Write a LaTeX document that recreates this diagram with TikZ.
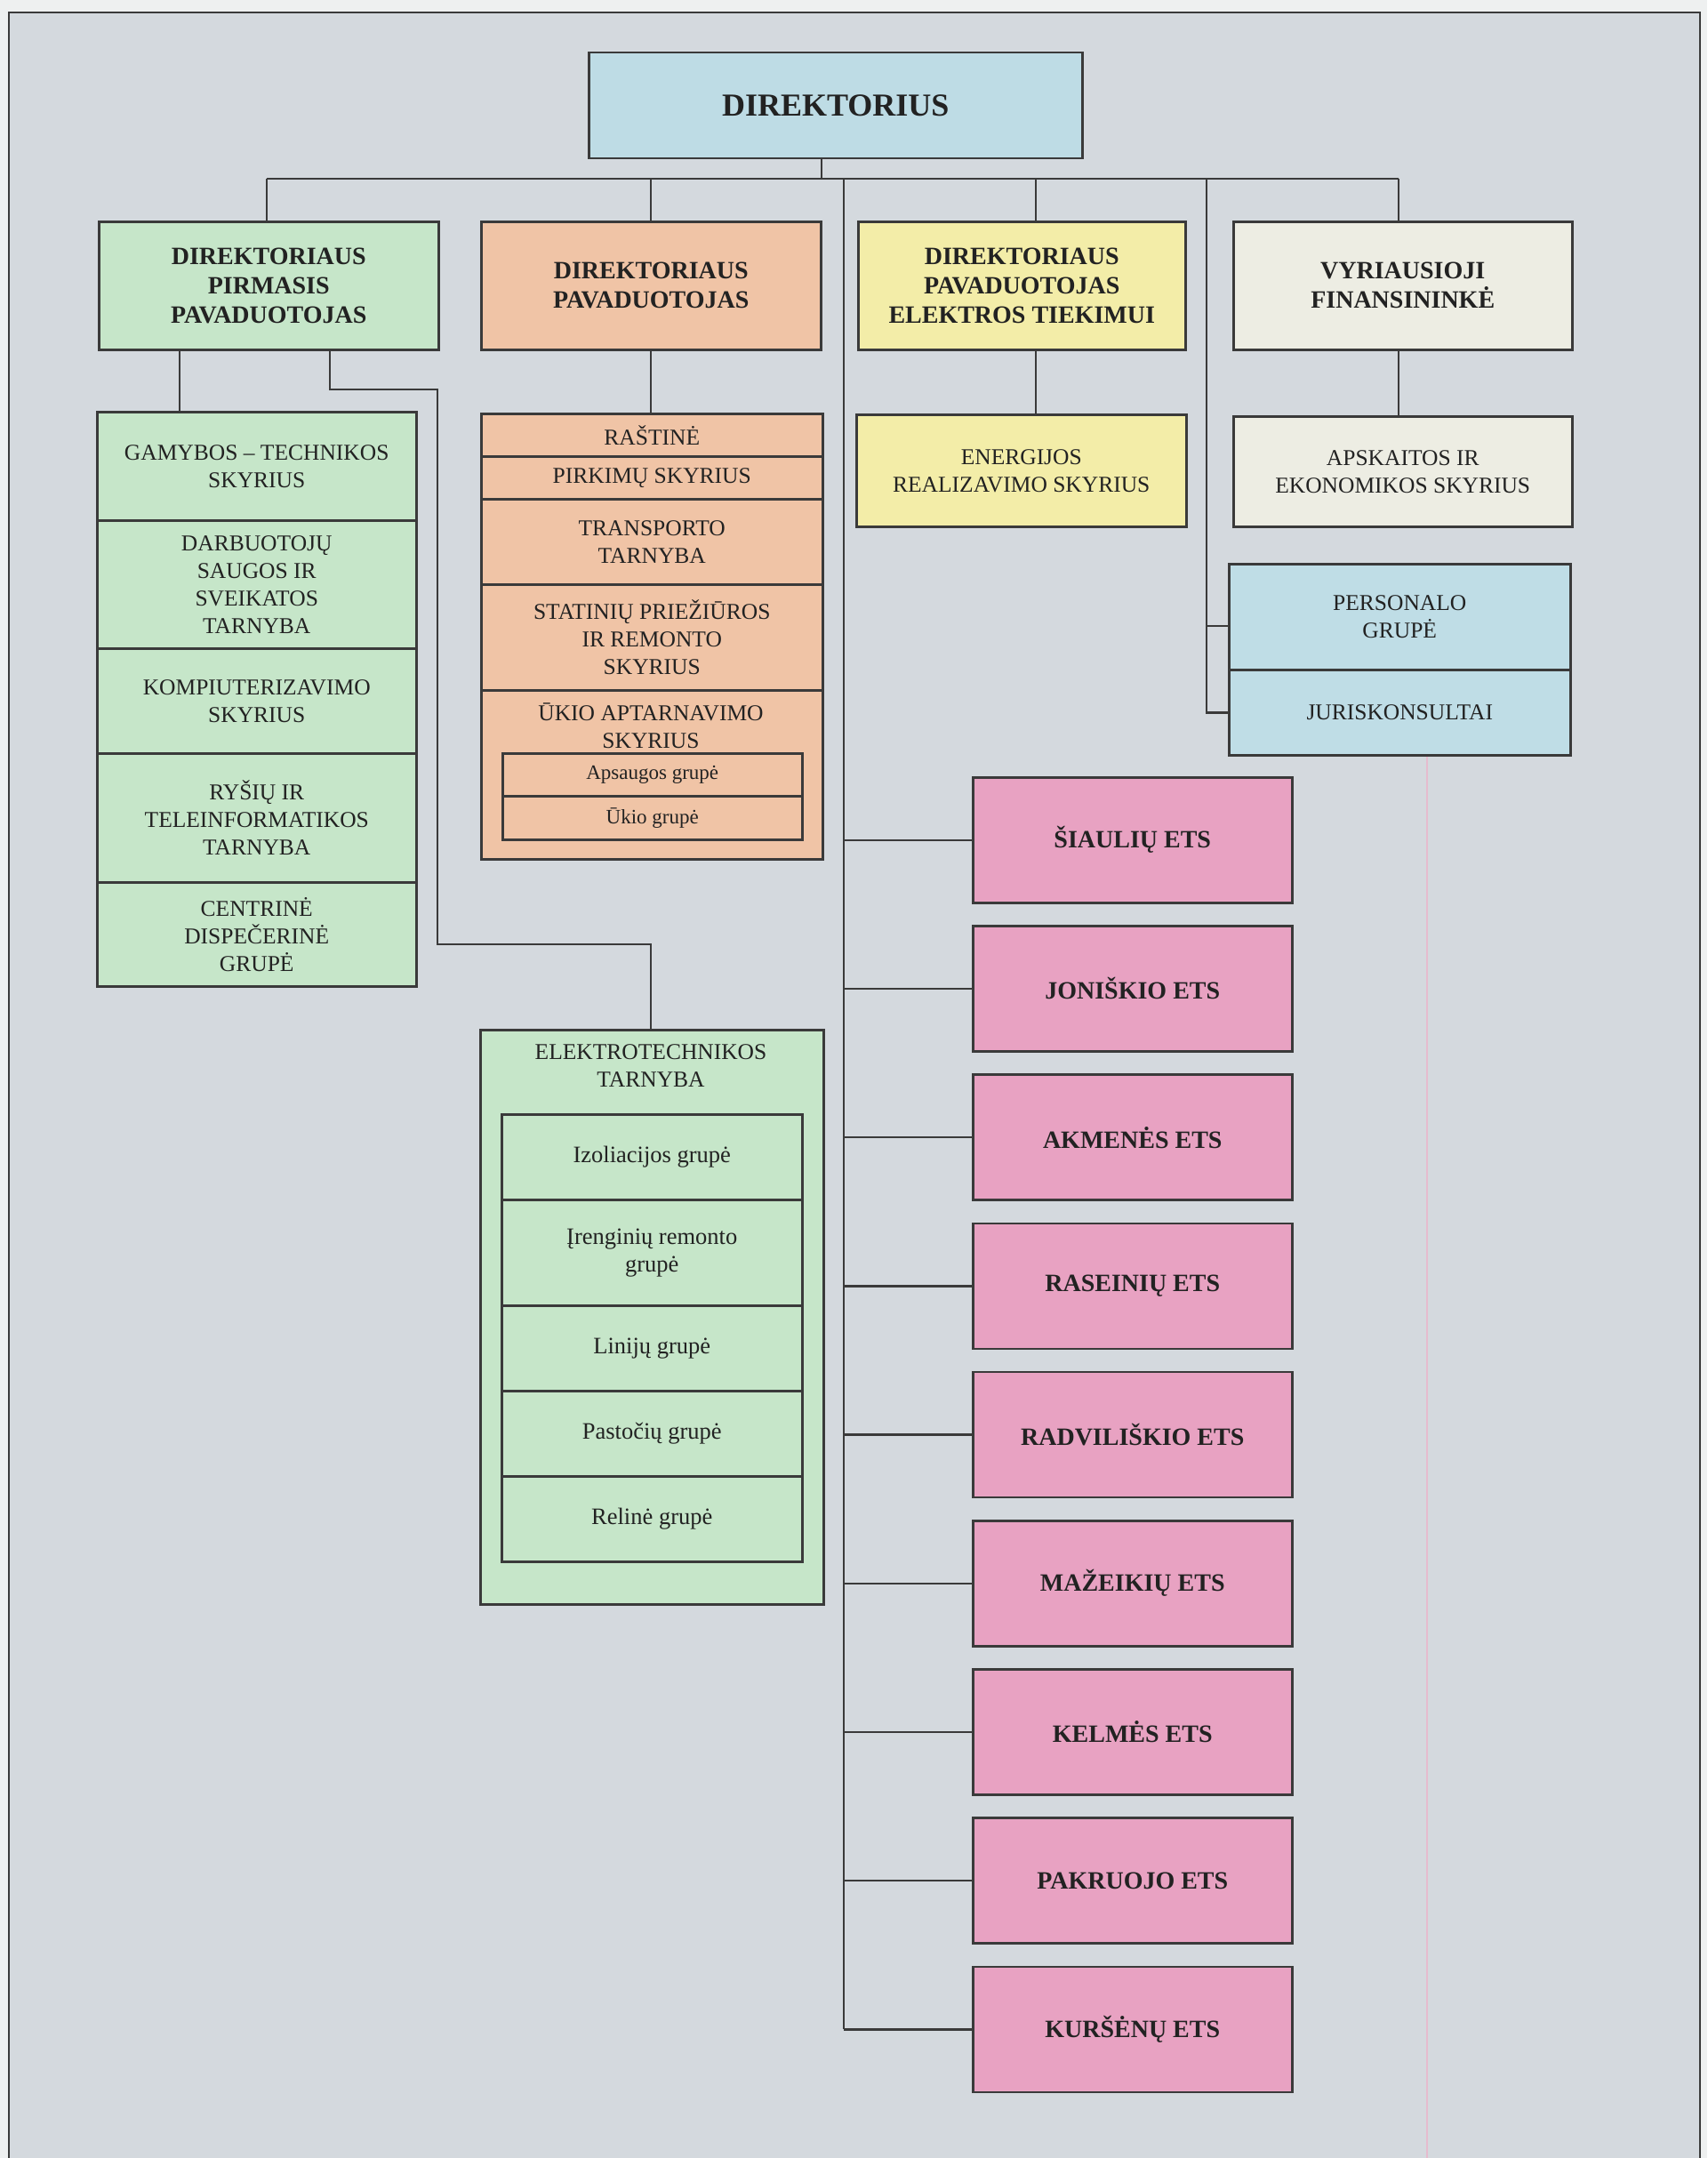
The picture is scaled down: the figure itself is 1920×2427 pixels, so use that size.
\documentclass[tikz,border=0pt]{standalone}
\usepackage{fontspec}
\setmainfont{Liberation Serif}
\definecolor{bgc}{HTML}{D4D9DE}
\definecolor{outc}{HTML}{EEF0F0}
\definecolor{lc}{HTML}{3A3A3A}
\definecolor{tc}{HTML}{222222}
\definecolor{dirblue}{HTML}{BEDCE5}
\definecolor{grn}{HTML}{C6E6C9}
\definecolor{org}{HTML}{F0C4A6}
\definecolor{yel}{HTML}{F3EDA8}
\definecolor{crm}{HTML}{EDEDE3}
\definecolor{perblue}{HTML}{BFDDE6}
\definecolor{pnk}{HTML}{E8A2C2}
\definecolor{pinkline}{HTML}{E6BCCE}
\newcommand\cbox[7]{\node[#6, minimum width=#4pt, minimum height=#5pt, anchor=north west] (#1) at (#2,#3) {#7};}
\begin{document}
\begin{tikzpicture}[x=1pt,y=-1pt,
  ln/.style={draw=lc, line width=2.5pt},
  cell/.style={draw=lc, line width=2.5pt, align=center, inner sep=0pt, text=tc},
  big/.style={cell, font=\bfseries\fontsize{36}{42}\selectfont},
  head/.style={cell, font=\bfseries\fontsize{28}{33}\selectfont},
  reg/.style={cell, font=\fontsize{25.5}{31}\selectfont},
  low/.style={cell, font=\fontsize{26.5}{31}\selectfont},
  small/.style={cell, font=\fontsize{23}{27}\selectfont},
  ets/.style={cell, fill=pnk, font=\bfseries\fontsize{28}{33}\selectfont},
  lbl/.style={align=center, inner sep=0pt, text=tc, font=\fontsize{25.5}{31}\selectfont}
]
\useasboundingbox (0,0) rectangle (1920,2427);
\fill[outc] (0,0) rectangle (1920,2427);
\fill[bgc] (10,14) rectangle (1912,2427);
\draw[draw=lc, line width=2.5pt] (10,2427) -- (10,14) -- (1912,14) -- (1912,2427);
\draw[pinkline, line width=2.5pt] (1605,850) -- (1605,2427);

% top
\cbox{dir}{661}{58}{555}{119}{big, fill=dirblue}{DIREKTORIUS}
% level 2
\cbox{b1}{110}{248}{382}{144}{head, fill=grn}{DIREKTORIAUS\\PIRMASIS\\PAVADUOTOJAS}
\cbox{b2}{540}{248}{382}{144}{head, fill=org}{DIREKTORIAUS\\PAVADUOTOJAS}
\cbox{b3}{964}{248}{368}{144}{head, fill=yel}{DIREKTORIAUS\\PAVADUOTOJAS\\ELEKTROS TIEKIMUI}
\cbox{b4}{1386}{248}{381}{144}{head, fill=crm}{VYRIAUSIOJI\\FINANSININKĖ}

% green stack
\cbox{g1}{108}{462}{359}{122}{reg, fill=grn}{GAMYBOS – TECHNIKOS\\SKYRIUS}
\cbox{g2}{108}{584}{359}{144}{reg, fill=grn}{DARBUOTOJŲ\\SAUGOS IR\\SVEIKATOS\\TARNYBA}
\cbox{g3}{108}{728}{359}{118}{reg, fill=grn}{KOMPIUTERIZAVIMO\\SKYRIUS}
\cbox{g4}{108}{846}{359}{145}{reg, fill=grn}{RYŠIŲ IR\\TELEINFORMATIKOS\\TARNYBA}
\cbox{g5}{108}{991}{359}{117}{reg, fill=grn}{CENTRINĖ\\DISPEČERINĖ\\GRUPĖ}

% orange stack
\cbox{o1}{540}{464}{384}{48}{reg, fill=org}{RAŠTINĖ}
\cbox{o2}{540}{512}{384}{48}{reg, fill=org}{PIRKIMŲ SKYRIUS}
\cbox{o3}{540}{560}{384}{96}{reg, fill=org}{TRANSPORTO\\TARNYBA}
\cbox{o4}{540}{656}{384}{119}{reg, fill=org}{STATINIŲ PRIEŽIŪROS\\IR REMONTO\\SKYRIUS}
\cbox{o5}{540}{775}{384}{190}{reg, fill=org}{}
\node[lbl, anchor=north] (o5t) at (732,791) {ŪKIO APTARNAVIMO\\SKYRIUS};
\cbox{o6}{564}{846}{337}{48}{small, fill=org}{Apsaugos grupė}
\cbox{o7}{564}{894}{337}{49}{small, fill=org}{Ūkio grupė}

% energijos, apskaitos
\cbox{en}{962}{465}{371}{126}{reg, fill=yel}{ENERGIJOS\\REALIZAVIMO SKYRIUS}
\cbox{ap}{1386}{467}{381}{124}{reg, fill=crm}{APSKAITOS IR\\EKONOMIKOS SKYRIUS}

% personalo
\cbox{per}{1381}{633}{384}{119}{reg, fill=perblue}{PERSONALO\\GRUPĖ}
\cbox{jur}{1381}{752}{384}{96}{reg, fill=perblue}{JURISKONSULTAI}

% elektrotechnikos
\cbox{el}{539}{1157}{386}{646}{reg, fill=grn}{}
\node[lbl, anchor=north] (elt) at (732,1174) {ELEKTROTECHNIKOS\\TARNYBA};
\cbox{e1}{563}{1252}{338}{96}{low, fill=grn}{Izoliacijos grupė}
\cbox{e2}{563}{1348}{338}{119}{low, fill=grn}{Įrenginių remonto\\grupė}
\cbox{e3}{563}{1467}{338}{96}{low, fill=grn}{Linijų grupė}
\cbox{e4}{563}{1563}{338}{96}{low, fill=grn}{Pastočių grupė}
\cbox{e5}{563}{1659}{338}{96}{low, fill=grn}{Relinė grupė}

% ETS
\cbox{t1}{1093}{873}{359}{141}{ets}{ŠIAULIŲ ETS}
\cbox{t2}{1093}{1040.2}{359}{141}{ets}{JONIŠKIO ETS}
\cbox{t3}{1093}{1207.4}{359}{141}{ets}{AKMENĖS ETS}
\cbox{t4}{1093}{1374.6}{359}{141}{ets}{RASEINIŲ ETS}
\cbox{t5}{1093}{1541.8}{359}{141}{ets}{RADVILIŠKIO ETS}
\cbox{t6}{1093}{1709}{359}{141}{ets}{MAŽEIKIŲ ETS}
\cbox{t7}{1093}{1876.2}{359}{141}{ets}{KELMĖS ETS}
\cbox{t8}{1093}{2043.4}{359}{141}{ets}{PAKRUOJO ETS}
\cbox{t9}{1093}{2210.6}{359}{141}{ets}{KURŠĖNŲ ETS}

% connectors
\coordinate (stem) at (924,201);
\coordinate (busL) at (300,201);
\coordinate (d2) at (732,201);
\coordinate (dE) at (949,201);
\coordinate (d3) at (1165,201);
\coordinate (dP) at (1357,201);
\coordinate (busR) at (1573,201);
\draw[ln] (dir.south -| stem) -- (stem);
\draw[ln] (busL) -- (busR);
\draw[ln] (busL) -- (busL |- b1.north);
\draw[ln] (d2) -- (d2 |- b2.north);
\draw[ln] (d3) -- (d3 |- b3.north);
\draw[ln] (busR) -- (busR |- b4.north);
\draw[ln] (dE) -- (dE |- t9.west);
\foreach \t in {t1,t2,t3,t4,t5,t6,t7,t8,t9}
  \draw[ln] (dE |- \t.west) -- (\t.west);
\draw[ln] (dP) -- (dP |- jur.west) -- (jur.west);
\coordinate (pbr) at (1357,704);
\draw[ln] (pbr) -- (pbr -| per.west);
\draw[ln] (b3.south -| d3) -- (en.north -| d3);
\draw[ln] (b4.south -| busR) -- (ap.north -| busR);
\draw[ln] (b2.south -| d2) -- (o1.north -| d2);
\coordinate (gx) at (202,0);
\draw[ln] (b1.south -| gx) -- (g1.north -| gx);
\coordinate (k1) at (371,438);
\coordinate (k2) at (492,438);
\coordinate (k3) at (492,1062);
\coordinate (k4) at (732,1062);
\draw[ln] (b1.south -| k1) -- (k1) -- (k2) -- (k3) -- (k4) -- (k4 |- el.north);
\end{tikzpicture}
\end{document}
